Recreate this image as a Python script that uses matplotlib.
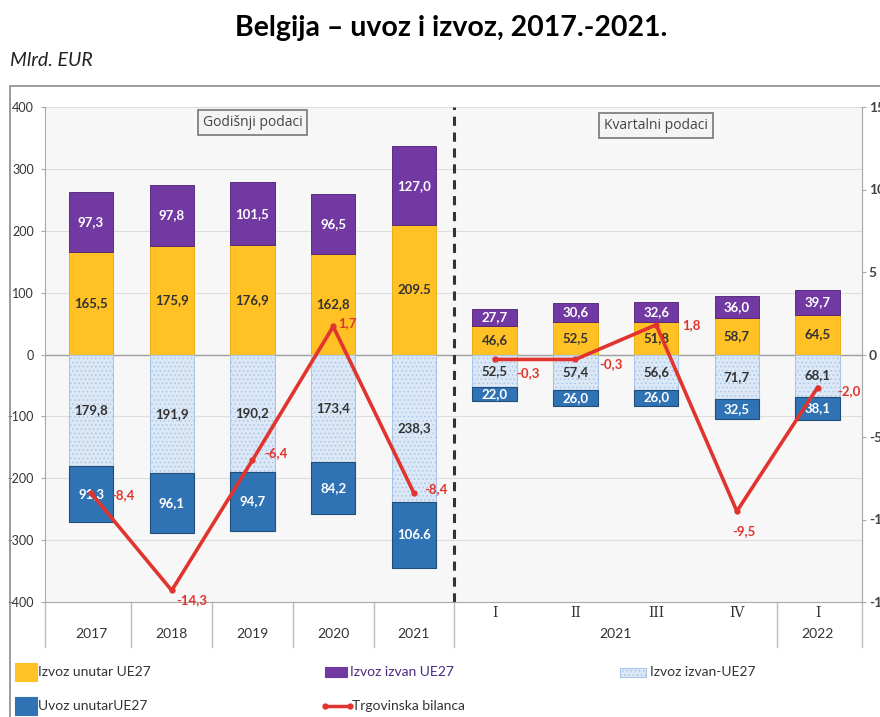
import matplotlib
matplotlib.use("Agg")
import matplotlib.pyplot as plt
from matplotlib.patches import Rectangle
from matplotlib.lines import Line2D
import matplotlib.transforms as mtransforms

# ---------------- data ----------------
periods = ["2017", "2018", "2019", "2020", "2021", "I", "II", "III", "IV", "I"]
group_labels = ["2017", "2018", "2019", "2020", "2021"]
quarter_year_labels = ["2021", "2022"]
izvoz_unutar = [165.5, 175.9, 176.9, 162.8, 209.5, 46.6, 52.5, 51.8, 58.7, 64.5]
izvoz_izvan = [97.3, 97.8, 101.5, 96.5, 127.0, 27.7, 30.6, 32.6, 36.0, 39.7]
uvoz_izvan = [179.8, 191.9, 190.2, 173.4, 238.3, 52.5, 57.4, 56.6, 71.7, 68.1]
uvoz_unutar = [91.3, 96.1, 94.7, 84.2, 106.6, 22.0, 26.0, 26.0, 32.5, 38.1]
bilanca = [-8.4, -14.3, -6.4, 1.7, -8.4, -0.3, -0.3, 1.8, -9.5, -2.0]
left_ticks = [400, 300, 200, 100, 0, -100, -200, -300, -400]
right_ticks = [15, 10, 5, 0, -5, -10, -15]

# ---------------- style ----------------
YELLOW = "#FFC124"
PURPLE = "#7139A1"
LIGHT = "#DCE8F6"
LIGHT_EDGE = "#A9C6E8"
DARK = "#2F73B5"
RED = "#E2342E"
TXT = "#333333"

plt.rcParams["font.family"] = ["Lato", "DejaVu Sans"]
plt.rcParams["hatch.color"] = "#B7CDEA"
plt.rcParams["hatch.linewidth"] = 0.6

W, H = 880, 717
fig = plt.figure(figsize=(W / 100, H / 100), dpi=100)

def px(x, y):
    return x / W, 1 - y / H

# outer frame
fig.add_artist(Rectangle(px(10, 717 + 5), (W + 10) / W, (717 + 5 - 86) / H,
                         transform=fig.transFigure, fill=False,
                         edgecolor="#8a8a8a", lw=1.2))

l, b = px(45, 602)
r, t = px(862, 107)
ax = fig.add_axes([l, b, r - l, t - b])
ax.set_facecolor("#F7F7F7")

x = list(range(len(periods)))
bw = 0.55

neg_light = [-v for v in uvoz_izvan]
neg_dark = [-v for v in uvoz_unutar]

ax.bar(x, izvoz_unutar, bw, color=YELLOW, edgecolor="#E8A800", lw=0.6, zorder=3)
ax.bar(x, izvoz_izvan, bw, bottom=izvoz_unutar, color=PURPLE, edgecolor="#4a1f73", lw=0.6, zorder=3)
ax.bar(x, neg_light, bw, color=LIGHT, edgecolor=LIGHT_EDGE, hatch="....", lw=0.8, zorder=3)
ax.bar(x, neg_dark, bw, bottom=neg_light, color=DARK, edgecolor="#1f4e79", lw=0.8, zorder=3)

dot_labels = {("yellow", 4), ("dark", 4)}

def fmt(v, key, i):
    s = f"{v:.1f}"
    if (key, i) in dot_labels:
        return s
    return s.replace(".", ",")

for i in x:
    ax.text(i, izvoz_unutar[i] / 2, fmt(izvoz_unutar[i], "yellow", i), ha="center", va="center",
            fontsize=9.5, fontweight="bold", color=TXT, zorder=5)
    ax.text(i, izvoz_unutar[i] + izvoz_izvan[i] / 2, fmt(izvoz_izvan[i], "purple", i), ha="center",
            va="center", fontsize=9.5, fontweight="bold", color="white", zorder=5)
    ax.text(i, -uvoz_izvan[i] / 2, fmt(uvoz_izvan[i], "light", i), ha="center", va="center",
            fontsize=9.5, fontweight="bold", color=TXT, zorder=5)
    ax.text(i, -uvoz_izvan[i] - uvoz_unutar[i] / 2, fmt(uvoz_unutar[i], "dark", i), ha="center",
            va="center", fontsize=9.5, fontweight="bold", color="white", zorder=5)

ax.set_xlim(-0.57, 9.55)
ax.set_ylim(-400, 400)
ax.set_yticks(left_ticks)
ax.set_yticklabels([str(v) for v in left_ticks])
ax.tick_params(axis="y", labelsize=9, colors=TXT, length=3, color="#aaaaaa", pad=5)
ax.set_xticks([])
ax.grid(axis="y", color="#DDDDDD", lw=0.8, zorder=0)
ax.axhline(0, color="#A0A0A0", lw=1.0, zorder=2)
ax.spines["top"].set_visible(False)
ax.spines["left"].set_color("#AAAAAA")
ax.spines["right"].set_color("#AAAAAA")
ax.spines["bottom"].set_color("#AAAAAA")

# dashed separator between annual and quarterly
ax.axvline(4.5, color="#333333", lw=2.2, ls=(0, (3, 2.2)), zorder=4)

# right axis for balance
ax2 = ax.twinx()
ax2.set_ylim(-15, 15)
ax2.set_yticks(right_ticks)
ax2.set_yticklabels([str(v) for v in right_ticks])
ax2.tick_params(axis="y", labelsize=10, colors="#444444", length=3, color="#aaaaaa", pad=2)
for lab in ax2.get_yticklabels():
    lab.set_fontweight("bold")
for s in ["top", "left", "bottom"]:
    ax2.spines[s].set_visible(False)
ax2.spines["right"].set_color("#AAAAAA")

ax2.plot(x[:5], bilanca[:5], color=RED, lw=2.6, marker="o", ms=3.5, zorder=6)
ax2.plot(x[5:], bilanca[5:], color=RED, lw=2.6, marker="o", ms=3.5, zorder=6)

bal_offsets = [(20, -2), (5, -10), (12, 7), (5, 3), (10, 4), (22, -14), (24, -5), (26, 0), (-5, -20), (20, -4)]
for i, v in enumerate(bilanca):
    dx, dy = bal_offsets[i]
    ax2.annotate(f"{v:.1f}".replace(".", ","), (x[i], v), xytext=(dx, dy),
                 textcoords="offset pixels", fontsize=9.5, fontweight="bold",
                 color=RED, ha="left", va="center", zorder=7)

# section boxes
ax.text(2.0, 375, "Godišnji podaci", ha="center", va="center", fontsize=10, color="#444444",
        bbox=dict(boxstyle="square,pad=0.35", fc="#F4F4F4", ec="#777777", lw=1.2), zorder=6,
        family=["Open Sans", "DejaVu Sans"])
ax.text(7.0, 370, "Kvartalni podaci", ha="center", va="center", fontsize=10, color="#444444",
        bbox=dict(boxstyle="square,pad=0.35", fc="#F4F4F4", ec="#777777", lw=1.2), zorder=6,
        family=["Open Sans", "DejaVu Sans"])

# category axis (below plot)
trans = mtransforms.blended_transform_factory(ax.transData, ax.transAxes)
for sx in [-0.57, 0.5, 1.5, 2.5, 3.5, 4.5, 8.5, 9.55]:
    ax.plot([sx, sx], [0, -0.09], color="#BBBBBB", lw=1, transform=trans, clip_on=False)
for i, lab in enumerate(group_labels):
    ax.text(i, -0.064, lab, transform=trans, ha="center", va="center", fontsize=10, color=TXT)
for i in range(5, 10):
    ax.text(i, -0.022, periods[i], transform=trans, ha="center", va="center", fontsize=10,
            color=TXT, family=["DejaVu Serif"])
ax.text(6.5, -0.064, quarter_year_labels[0], transform=trans, ha="center", va="center", fontsize=10, color=TXT)
ax.text(9.0, -0.064, quarter_year_labels[1], transform=trans, ha="center", va="center", fontsize=10, color=TXT)

# title and unit
fig.text(*px(451, 28), "Belgija – uvoz i izvoz, 2017.-2021.", ha="center", va="center",
         fontsize=20.5, fontweight="bold", color="black")
fig.text(*px(10, 60), "Mlrd. EUR", ha="left", va="center", fontsize=14, style="italic", color="#222222")

# legend (manual)
def leg_patch(x0, y0, color, hatch=None, ec=None, w=22, h=18):
    fx, fy = px(x0, y0 + h / 2)
    fig.add_artist(Rectangle((fx, fy), w / W, h / H, transform=fig.transFigure,
                             facecolor=color, edgecolor=ec or color, hatch=hatch, lw=0.8))

def leg_text(x0, y0, s, color=TXT):
    fig.text(*px(x0, y0), s, ha="left", va="center", fontsize=10, color=color)

leg_patch(15, 672, YELLOW)
leg_text(38, 672, "Izvoz unutar UE27")
leg_patch(325, 672, PURPLE, w=22, h=10)
leg_text(350, 672, "Izvoz izvan UE27", color="#4a2a80")
leg_patch(620, 672, LIGHT, hatch="....", ec=LIGHT_EDGE, w=26, h=9)
leg_text(650, 672, "Izvoz izvan-UE27")
leg_patch(15, 706, DARK)
leg_text(38, 706, "Uvoz unutarUE27")
fig.add_artist(Line2D([325 / W, 350 / W], [1 - 706 / H, 1 - 706 / H], transform=fig.transFigure,
                      color=RED, lw=2.5, marker="o", ms=3.5, markevery=[0, 1]))
leg_text(352, 706, "Trgovinska bilanca")

fig.savefig("out.png", dpi=100)
